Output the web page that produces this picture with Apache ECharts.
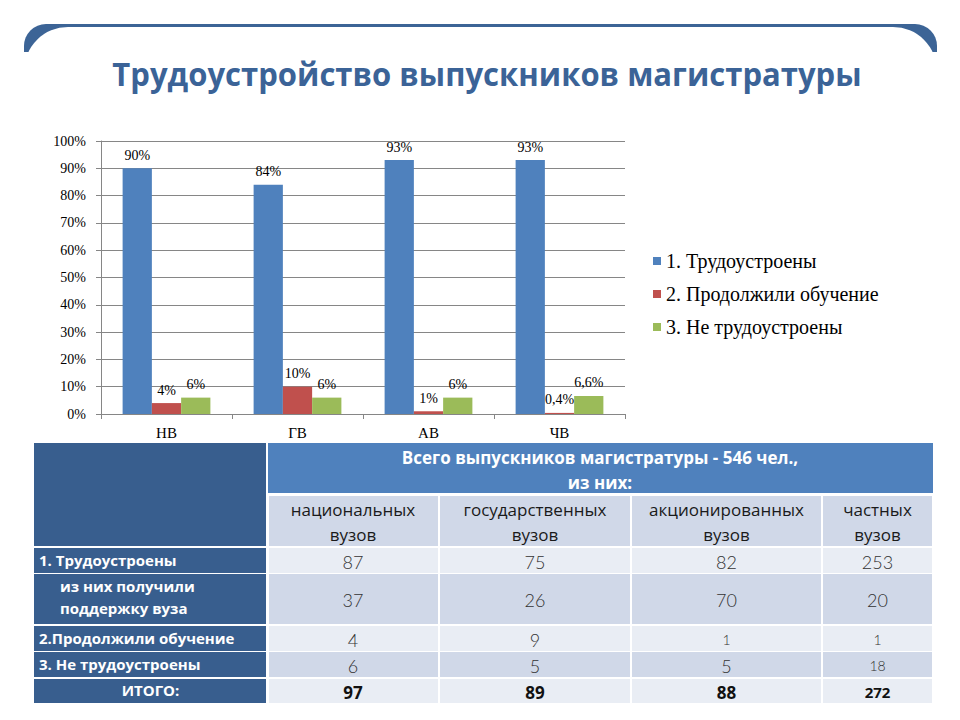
<!DOCTYPE html>
<html>
<head>
<meta charset="utf-8">
<script src="https://cdn.jsdelivr.net/npm/echarts@6/dist/echarts.min.js"></script>
<style>
html,body{margin:0;padding:0;background:#fff;}
#main{width:960px;height:720px;}
</style>
</head>
<body>
<div id="main"></div>
<script>
// ---- chart data ----
const titleText = 'Трудоустройство выпускников магистратуры';
const categories = ['НВ', 'ГВ', 'АВ', 'ЧВ'];
const seriesNames = ['1. Трудоустроены', '2. Продолжили обучение', '3. Не трудоустроены'];
const employedPct = [90, 84, 93, 93];
const continuedPct = [4, 10, 1, 0.4];
const notEmployedPct = [6, 6, 6, 6.6];
const seriesColors = ['#4F81BD', '#C0504D', '#9BBB59'];

// ---- table data ----
const tableHeader = 'Всего выпускников магистратуры - 546 чел.,\nиз них:';
const tableCols = ['национальных\nвузов', 'государственных\nвузов', 'акционированных\nвузов', 'частных\nвузов'];
const tableRowLabels = ['1. Трудоустроены', 'из них получили\nподдержку вуза', '2.Продолжили обучение', '3. Не трудоустроены', 'ИТОГО:'];
const rowEmployed = [87, 75, 82, 253];
const rowSupported = [37, 26, 70, 20];
const rowContinued = [4, 9, 1, 1];
const rowNotEmployed = [6, 5, 5, 18];
const rowTotal = [97, 89, 88, 272];

const chart = echarts.init(document.getElementById('main'), null, {renderer: 'svg'});
const serif = '"Liberation Serif", "Times New Roman", serif';
const sans = '"Open Sans", "Noto Sans", sans-serif';

function fmtPct(v) { return String(v).replace('.', ',') + '%'; }

// ---- table layout ----
const colX = [34, 267, 439, 631, 822, 933];
const rowY = [[548, 573], [574, 624], [626, 651], [652, 677], [679, 703]];
const dataRows = [rowEmployed, rowSupported, rowContinued, rowNotEmployed, rowTotal];
const dark = '#385E8E', light1 = '#E9EDF4', light2 = '#D0D8E8';
const g = [];
// header decoration
g.push({type: 'rect', z: 1, shape: {x: 24, y: 24, width: 913, height: 28, r: [22, 22, 0, 0]}, style: {fill: '#3C6496'}});
g.push({type: 'rect', z: 2, shape: {x: 24, y: 27, width: 913, height: 70, r: [44, 44, 0, 0]}, style: {fill: '#ffffff'}});
g.push({type: 'text', z: 3, x: 487, y: 73, scaleX: 0.97, style: {text: titleText, x: 0, y: 0, align: 'center', verticalAlign: 'middle',
  fontFamily: sans, fontWeight: 'bold', fontSize: 32, fill: '#3B6397'}});
// left header block
g.push({type: 'rect', z: 3, shape: {x: colX[0], y: 443, width: colX[1] - colX[0] - 1, height: 103}, style: {fill: dark}});
// top header
g.push({type: 'rect', z: 3, shape: {x: colX[1] + 1, y: 443, width: colX[5] - colX[1] - 1, height: 50}, style: {fill: '#4F81BD'}});
g.push({type: 'text', z: 4, style: {text: tableHeader, x: (colX[1] + colX[5]) / 2, y: 470, align: 'center', verticalAlign: 'middle',
  fontFamily: sans, fontWeight: 'bold', fontSize: 17, lineHeight: 25, fill: '#ffffff'}});
// sub header
for (let c = 0; c < 4; c++) {
  const x0 = colX[c + 1] + (c === 0 ? 2 : 1), x1 = colX[c + 2] - 1;
  g.push({type: 'rect', z: 3, shape: {x: x0, y: 496, width: x1 - x0, height: 50}, style: {fill: light2}});
  g.push({type: 'text', z: 4, style: {text: tableCols[c], x: (colX[c + 1] + colX[c + 2]) / 2, y: 522, align: 'center', verticalAlign: 'middle',
    fontFamily: sans, fontSize: 17, lineHeight: 25, fill: '#1a1a1a'}});
}
// body rows
for (let r = 0; r < rowY.length; r++) {
  const [y0, y1] = rowY[r];
  const isTotal = r === rowY.length - 1;
  g.push({type: 'rect', z: 3, shape: {x: colX[0], y: y0, width: colX[1] - colX[0] - 1, height: y1 - y0}, style: {fill: dark}});
  const lbl = tableRowLabels[r];
  g.push({type: 'text', z: 4, style: {text: lbl,
    x: isTotal ? (colX[0] + colX[1]) / 2 : (r === 1 ? 60 : 39), y: (y0 + y1) / 2 - (r === 1 ? 2 : 1),
    align: isTotal ? 'center' : 'left', verticalAlign: 'middle',
    fontFamily: sans, fontWeight: 'bold', fontSize: 15, lineHeight: 22, fill: '#ffffff'}});
  for (let c = 0; c < 4; c++) {
    const x0 = colX[c + 1] + (c === 0 ? 2 : 1), x1 = colX[c + 2] - 1;
    g.push({type: 'rect', z: 3, shape: {x: x0, y: y0, width: x1 - x0, height: y1 - y0}, style: {fill: r % 2 === 0 ? light1 : light2}});
    const v = dataRows[r][c];
    let fs = 18;
    if (isTotal) fs = (c === 3 ? 15 : 17);
    else if ((r === 2 && c >= 2) || (r === 3 && c === 3)) fs = 14;
    g.push({type: 'text', z: 4, style: {text: String(v), x: (colX[c + 1] + colX[c + 2]) / 2, y: (y0 + y1) / 2 + 1,
      align: 'center', verticalAlign: 'middle', fontFamily: isTotal ? sans : '"Lato", "Open Sans", sans-serif',
      fontWeight: isTotal ? 'bold' : 300, fontSize: fs, fill: isTotal ? '#111' : '#333'}});
  }
}

const dataSets = [employedPct, continuedPct, notEmployedPct];
const option = {
  animation: false,
  backgroundColor: '#ffffff',
  graphic: g,
  legend: {
    orient: 'vertical', left: 648, top: 246,
    itemWidth: 8, itemHeight: 8, itemGap: 13,
    icon: 'rect',
    textStyle: {fontFamily: serif, fontSize: 20, color: '#000', lineHeight: 20},
    data: seriesNames
  },
  grid: {left: 101, right: 335, top: 141, bottom: 306, containLabel: false},
  xAxis: {
    type: 'category', data: categories,
    axisLine: {show: true, lineStyle: {color: '#868686'}},
    axisTick: {show: true, length: 5, lineStyle: {color: '#868686'}},
    axisLabel: {fontFamily: serif, fontSize: 15, color: '#000', margin: 11}
  },
  yAxis: {
    type: 'value', min: 0, max: 100, interval: 10,
    axisLine: {show: true, lineStyle: {color: '#868686'}},
    axisTick: {show: true, length: 5, lineStyle: {color: '#868686'}},
    splitLine: {lineStyle: {color: '#868686'}},
    axisLabel: {fontFamily: serif, fontSize: 14, color: '#000', margin: 15, formatter: '{value}%'}
  },
  series: dataSets.map((d, i) => ({
    name: seriesNames[i], type: 'bar', data: d,
    barGap: '0%', barCategoryGap: '33%',
    itemStyle: {color: seriesColors[i]},
    label: {show: true, position: 'top', distance: 6, fontFamily: serif, fontSize: 14, color: '#000',
      formatter: p => fmtPct(p.value)}
  }))
};
chart.setOption(option);
</script>
</body>
</html>
